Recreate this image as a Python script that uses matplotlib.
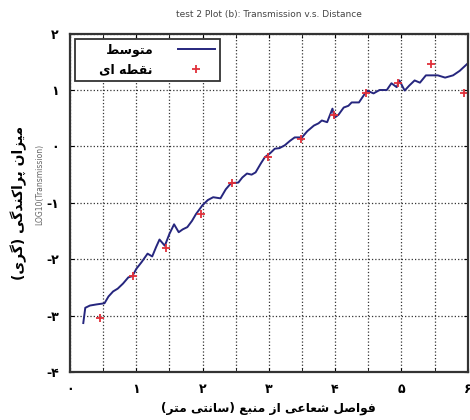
import matplotlib
matplotlib.use('Agg')
import matplotlib.pyplot as plt
from matplotlib.ticker import MultipleLocator

# averaged curve
dist_line = [0.20, 0.23, 0.30, 0.40, 0.52, 0.58, 0.65, 0.72, 0.80, 0.88,
             0.94, 1.00, 1.08, 1.17, 1.24, 1.30, 1.35, 1.43, 1.50, 1.57,
             1.64, 1.70, 1.77, 1.84, 1.90, 2.00, 2.08, 2.16, 2.27, 2.35,
             2.43, 2.54, 2.60, 2.67, 2.74, 2.80, 2.88, 2.94, 3.02, 3.09,
             3.16, 3.24, 3.32, 3.39, 3.50, 3.58, 3.68, 3.75, 3.80, 3.88,
             3.96, 3.99, 4.05, 4.13, 4.20, 4.25, 4.36, 4.48, 4.58, 4.67,
             4.78, 4.85, 4.93, 4.97, 5.05, 5.12, 5.20, 5.28, 5.37, 5.55,
             5.66, 5.78, 5.88, 6.00]
dose_line = [-3.13, -2.86, -2.82, -2.80, -2.78, -2.66, -2.57, -2.52, -2.43, -2.32,
             -2.30, -2.17, -2.05, -1.90, -1.95, -1.78, -1.65, -1.76, -1.55, -1.38,
             -1.52, -1.47, -1.43, -1.32, -1.20, -1.04, -0.95, -0.90, -0.92, -0.76,
             -0.65, -0.64, -0.55, -0.48, -0.50, -0.46, -0.30, -0.19, -0.12, -0.04,
             -0.03, 0.02, 0.10, 0.16, 0.16, 0.27, 0.37, 0.41, 0.46, 0.43,
             0.67, 0.51, 0.56, 0.69, 0.72, 0.78, 0.78, 0.99, 0.94, 1.00,
             1.00, 1.12, 1.05, 1.17, 0.99, 1.08, 1.17, 1.13, 1.26, 1.26,
             1.22, 1.26, 1.34, 1.47]

# point measurements
dist_pts = [0.45, 0.95, 1.45, 1.97, 2.45, 2.98, 3.48, 3.98, 4.46, 4.95, 5.45, 5.95]
dose_pts = [-3.04, -2.30, -1.80, -1.20, -0.64, -0.19, 0.14, 0.55, 0.94, 1.13, 1.47, 0.94]

x_ticks = [0, 1, 2, 3, 4, 5, 6]
y_ticks = [-4, -3, -2, -1, 0, 1, 2]

# contextual forms: isolated, final, initial, medial
FORMS = {
    'ا': ('\uFE8D', '\uFE8E', None, None),
    'ب': ('\uFE8F', '\uFE90', '\uFE91', '\uFE92'),
    'پ': ('\uFB56', '\uFB57', '\uFB58', '\uFB59'),
    'ت': ('\uFE95', '\uFE96', '\uFE97', '\uFE98'),
    'د': ('\uFEA9', '\uFEAA', None, None),
    'ر': ('\uFEAD', '\uFEAE', None, None),
    'ز': ('\uFEAF', '\uFEB0', None, None),
    'س': ('\uFEB1', '\uFEB2', '\uFEB3', '\uFEB4'),
    'ش': ('\uFEB5', '\uFEB6', '\uFEB7', '\uFEB8'),
    'ص': ('\uFEB9', '\uFEBA', '\uFEBB', '\uFEBC'),
    'ط': ('\uFEC1', '\uFEC2', '\uFEC3', '\uFEC4'),
    'ع': ('\uFEC9', '\uFECA', '\uFECB', '\uFECC'),
    'ف': ('\uFED1', '\uFED2', '\uFED3', '\uFED4'),
    'ق': ('\uFED5', '\uFED6', '\uFED7', '\uFED8'),
    'ک': ('\uFB8E', '\uFB8F', '\uFB90', '\uFB91'),
    'گ': ('\uFB92', '\uFB93', '\uFB94', '\uFB95'),
    'ل': ('\uFEDD', '\uFEDE', '\uFEDF', '\uFEE0'),
    'م': ('\uFEE1', '\uFEE2', '\uFEE3', '\uFEE4'),
    'ن': ('\uFEE5', '\uFEE6', '\uFEE7', '\uFEE8'),
    'ه': ('\uFEE9', '\uFEEA', '\uFEEB', '\uFEEC'),
    'و': ('\uFEED', '\uFEEE', None, None),
    'ی': ('\uFBFC', '\uFBFD', '\uFBFE', '\uFBFF'),
}


def fa(s):
    # shape persian letters and reverse for left-to-right drawing
    out = []
    for i, c in enumerate(s):
        if c not in FORMS:
            out.append({'(': ')', ')': '('}.get(c, c))
            continue
        iso, fin, ini, med = FORMS[c]
        prev = s[i - 1] if i > 0 else ''
        nxt = s[i + 1] if i + 1 < len(s) else ''
        pj = prev in FORMS and FORMS[prev][2] is not None
        nj = nxt in FORMS and ini is not None
        if pj and nj:
            out.append(med)
        elif pj:
            out.append(fin)
        elif nj:
            out.append(ini)
        else:
            out.append(iso)
    return ''.join(reversed(out))


def fa_num(v):
    return str(v).translate(str.maketrans('0123456789', '۰۱۲۳۴۵۶۷۸۹'))


plt.rcParams['font.family'] = 'DejaVu Sans'

fig = plt.figure(figsize=(4.7, 4.2), dpi=100)
ax = fig.add_axes([0.149, 0.114, 0.846, 0.806])

ax.plot(dist_line, dose_line, color='#26267e', lw=1.4,
        label='      ' + fa('متوسط'))
ax.plot(dist_pts, dose_pts, ls='none', marker='+', ms=6, mew=1.3,
        color='#e0303a', label='   ' + fa('نقطه ای'))

ax.set_xlim(0, 6)
ax.set_ylim(-4, 2)
ax.set_xticks(x_ticks)
ax.set_xticklabels([fa_num(v) for v in x_ticks], fontweight='bold')
ax.set_yticks(y_ticks)
ax.set_yticklabels([fa_num(v) for v in y_ticks], fontweight='bold')
ax.xaxis.set_minor_locator(MultipleLocator(0.5))
ax.tick_params(which='both', direction='in', top=True, right=True,
               labelsize=9, length=3, pad=8)
ax.grid(True, which='major', ls=':', color='#333333', lw=0.9)
ax.grid(True, which='minor', axis='x', ls=':', color='#333333', lw=0.9)
for sp in ax.spines.values():
    sp.set_linewidth(1.6)
    sp.set_color('#333333')

leg = ax.legend(loc='upper left', bbox_to_anchor=(0.012, 0.985),
                markerfirst=False, fancybox=False, edgecolor='#333333',
                framealpha=1, borderaxespad=0, handlelength=3.0,
                handletextpad=2.0, prop={'weight': 'bold', 'size': 9})
leg.get_frame().set_linewidth(1.3)

ax.set_title('test 2 Plot (b): Transmission v.s. Distance', fontsize=6.5,
             color='#444444', pad=12)
ax.set_xlabel(fa('فواصل شعاعی از منبع (سانتی متر)'), fontsize=8.8,
              fontweight='bold', labelpad=4)
ax.set_ylabel(fa('میزان پراکندگی (گری)'), fontsize=10, fontweight='bold',
              labelpad=14)
fig.text(0.085, 0.56, 'LOG10(Transmission)', rotation=90, fontsize=5.5,
         color='#666666', ha='center', va='center')

fig.savefig('out.png', dpi=100)
